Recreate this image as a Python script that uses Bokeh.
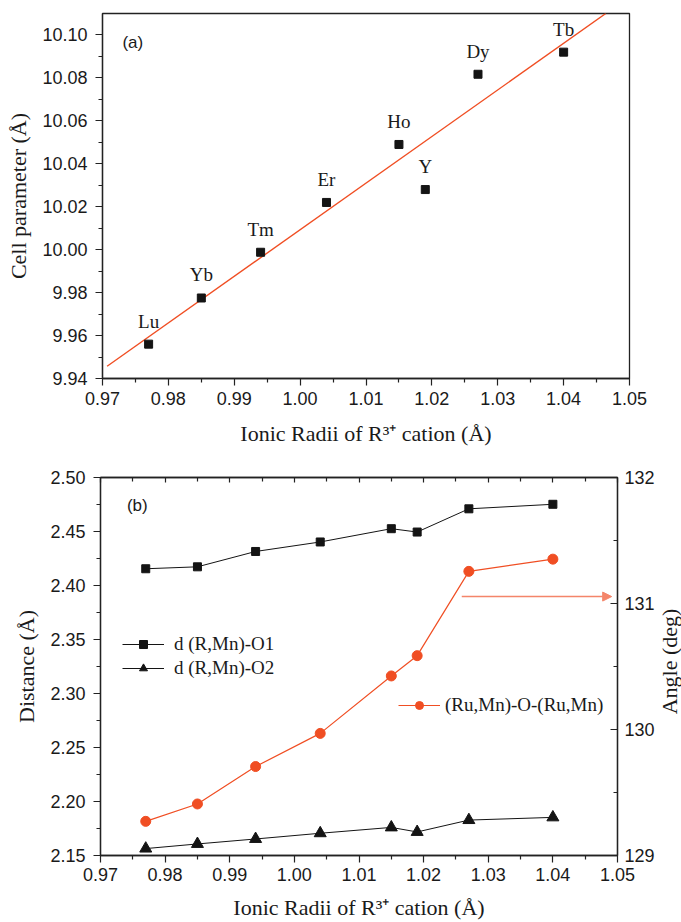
import numpy as np
from bokeh.plotting import figure
from bokeh.layouts import column, row
from bokeh.models import (FixedTicker, PrintfTickFormatter, LinearAxis, Range1d, CustomJSTickFormatter,
                          Legend, LegendItem, Label, Arrow, NormalHead, ColumnDataSource)
from bokeh.core.properties import value
from bokeh.embed import file_html
from bokeh.resources import INLINE

# ---------------- data ----------------
# panel (a)
radii_a = [0.977, 0.985, 0.994, 1.004, 1.015, 1.019, 1.027, 1.040]
cell_a = [9.956, 9.9775, 9.9988, 10.022, 10.049, 10.028, 10.0817, 10.092]
elements = ["Lu", "Yb", "Tm", "Er", "Ho", "Y", "Dy", "Tb"]
fit_x = [0.9707, 1.0464]
fit_y = [9.9457, 10.110]

# panel (b)
radii_b = [0.977, 0.985, 0.994, 1.004, 1.015, 1.019, 1.027, 1.040]
d_o1 = [2.4155, 2.4173, 2.4315, 2.4403, 2.4526, 2.4495, 2.4710, 2.4752]
d_o2 = [2.1564, 2.1607, 2.1653, 2.1706, 2.1760, 2.1718, 2.1828, 2.1853]
angle = [129.271, 129.409, 129.706, 129.969, 130.425, 130.586, 131.255, 131.352]

x_ticks = [0.97, 0.98, 0.99, 1.00, 1.01, 1.02, 1.03, 1.04, 1.05]
x_minor = [0.975, 0.985, 0.995, 1.005, 1.015, 1.025, 1.035, 1.045]
ya_ticks = [9.94, 9.96, 9.98, 10.00, 10.02, 10.04, 10.06, 10.08, 10.10]
ya_minor = [9.95, 9.97, 9.99, 10.01, 10.03, 10.05, 10.07, 10.09]
yb_ticks = [2.15, 2.20, 2.25, 2.30, 2.35, 2.40, 2.45, 2.50]
yb_minor = [2.175, 2.225, 2.275, 2.325, 2.375, 2.425, 2.475]
ang_ticks = [129, 130, 131, 132]
ang_minor = [129.5, 130.5, 131.5]

RED = "#f04e23"
ARROW = "#f4856a"
BLACK = "#141414"
SERIF = "Liberation Serif"
SANS = "Liberation Sans"
XLABEL = "Ionic Radii of R\u00b3\u207a cation (\u00c5)"


def style_axis(ax, ticks, minor, fmt, out=True):
    ax.ticker = FixedTicker(ticks=ticks, minor_ticks=minor)
    ax.formatter = PrintfTickFormatter(format=fmt)
    ax.major_label_text_font = SANS
    ax.major_label_text_font_size = "18px"
    ax.major_label_text_color = "#1a1a1a"
    ax.axis_label_text_font = SERIF
    ax.axis_label_text_font_size = "22px"
    ax.axis_label_text_font_style = "normal"
    ax.axis_label_text_color = "#1a1a1a"
    ax.axis_line_color = "#222222"
    ax.axis_line_width = 1.3
    ax.major_tick_line_color = "#222222"
    ax.minor_tick_line_color = "#222222"
    ax.major_tick_line_width = 1.2
    ax.minor_tick_line_width = 1.2
    if out:
        ax.major_tick_out = 7
        ax.major_tick_in = 0
        ax.minor_tick_out = 4
        ax.minor_tick_in = 0
    else:
        ax.major_tick_out = 0
        ax.major_tick_in = 7
        ax.minor_tick_out = 0
        ax.minor_tick_in = 4


# ---------------- panel (a) ----------------
p1 = figure(width=681, height=460, x_range=(0.97, 1.05), y_range=(9.94, 10.11),
            output_backend="svg", toolbar_location=None,
            min_border_left=102, min_border_right=52, min_border_top=13, min_border_bottom=82)
p1.grid.visible = False
p1.outline_line_color = "#222222"
p1.outline_line_width = 1.3
style_axis(p1.xaxis[0], x_ticks, x_minor, "%.2f")
style_axis(p1.yaxis[0], ya_ticks, ya_minor, "%.2f")
p1.xaxis[0].axis_label = XLABEL
p1.yaxis[0].axis_label = "Cell parameter (\u00c5)"
p1.xaxis[0].major_label_standoff = 6
p1.xaxis[0].axis_label_standoff = 13
p1.yaxis[0].major_label_standoff = 8
p1.yaxis[0].axis_label_standoff = 8

p1.line(fit_x, fit_y, line_color=RED, line_width=1.4)
src_a = ColumnDataSource(dict(x=radii_a, y=cell_a, t=elements))
p1.scatter("x", "y", source=src_a, marker="square", size=8, fill_color=BLACK, line_color=BLACK)
p1.text("x", "y", text="t", source=src_a, y_offset=-23, text_align="center",
        text_baseline="middle", text_font=value(SERIF), text_font_size="19px", text_color="#1a1a1a")
p1.add_layout(Label(x=0.9746, y=10.0963, text="(a)", text_font=SANS, text_font_size="17px",
                    text_align="center", text_baseline="middle", text_color="#1a1a1a"))

# ---------------- panel (b) ----------------
p2 = figure(width=657, height=462, x_range=(0.97, 1.05), y_range=(2.15, 2.50),
            output_backend="svg", toolbar_location=None,
            min_border_left=100, min_border_right=40, min_border_top=17, min_border_bottom=64)
p2.extra_y_ranges = {"angle": Range1d(129, 132)}
p2.grid.visible = False
p2.outline_line_color = "#222222"
p2.outline_line_width = 1.3
style_axis(p2.xaxis[0], x_ticks, x_minor, "%.2f")
style_axis(p2.yaxis[0], yb_ticks, yb_minor, "%.2f")
p2.xaxis[0].axis_label = XLABEL
p2.yaxis[0].axis_label = "Distance (\u00c5)"
p2.xaxis[0].major_label_standoff = 5
p2.xaxis[0].axis_label_standoff = 11
p2.yaxis[0].major_label_standoff = 8
p2.yaxis[0].axis_label_standoff = 8

right_ax = LinearAxis(y_range_name="angle")
style_axis(right_ax, ang_ticks, ang_minor, "%d", out=False)
right_ax.major_label_standoff = 7
p2.add_layout(right_ax, "right")

top_ax = LinearAxis()
style_axis(top_ax, x_ticks, x_minor, "%.2f", out=False)
top_ax.major_tick_in = 5
top_ax.minor_tick_in = 4
top_ax.formatter = CustomJSTickFormatter(code="return '';")
top_ax.major_label_standoff = 0
p2.add_layout(top_ax, "above")

l1 = p2.line(radii_b, d_o1, line_color=BLACK, line_width=1)
s1 = p2.scatter(radii_b, d_o1, marker="square", size=8, fill_color=BLACK, line_color=BLACK)
l2 = p2.line(radii_b, d_o2, line_color=BLACK, line_width=1)
s2 = p2.scatter(radii_b, d_o2, marker="triangle", size=12, fill_color=BLACK, line_color=BLACK)
l3 = p2.line(radii_b, angle, y_range_name="angle", line_color=RED, line_width=1.2)
s3 = p2.scatter(radii_b, angle, y_range_name="angle", marker="circle", size=10,
                fill_color=RED, line_color=RED)

leg1 = Legend(items=[LegendItem(label="d (R,Mn)-O1", renderers=[l1, s1]),
                     LegendItem(label="d (R,Mn)-O2", renderers=[l2, s2])],
              location=(22, 176), glyph_width=42, glyph_height=20, label_height=20,
              spacing=2, padding=0, margin=0, label_standoff=10,
              border_line_color=None, background_fill_alpha=0,
              label_text_font=SERIF, label_text_font_size="19px", label_text_color="#1a1a1a")
leg2 = Legend(items=[LegendItem(label="(Ru,Mn)-O-(Ru,Mn)", renderers=[l3, s3])],
              location=(298, 139), glyph_width=42, glyph_height=20, label_height=20,
              spacing=2, padding=0, margin=0, label_standoff=5,
              border_line_color=None, background_fill_alpha=0,
              label_text_font=SERIF, label_text_font_size="19px", label_text_color="#1a1a1a")
p2.add_layout(leg1)
p2.add_layout(leg2)

p2.add_layout(Arrow(end=NormalHead(size=9, fill_color=ARROW, line_color=ARROW),
                    x_start=1.0259, y_start=131.055, x_end=1.0491, y_end=131.055,
                    y_range_name="angle", line_color=ARROW, line_width=1.6))
p2.add_layout(Label(x=0.9757, y=2.474, text="(b)", text_font=SANS, text_font_size="17px",
                    text_align="center", text_baseline="middle", text_color="#1a1a1a"))

# narrow strip holding the right-hand axis title "Angle (deg)"
p3 = figure(width=24, height=462, x_range=(0, 1), y_range=(0, 1),
            output_backend="svg", toolbar_location=None,
            min_border=0, min_border_left=0, min_border_right=0, min_border_top=0, min_border_bottom=0)
p3.axis.visible = False
p3.grid.visible = False
p3.outline_line_color = None
p3.text(x=[0.5], y=[0.565], text=["Angle (deg)"], angle=np.pi / 2, text_align="center",
        text_baseline="middle", text_font=value(SERIF), text_font_size="22px", text_color="#1a1a1a")

layout = column(column(p1), row(column(p2), column(p3)))
open("out.html", "w").write(file_html(layout, INLINE))
